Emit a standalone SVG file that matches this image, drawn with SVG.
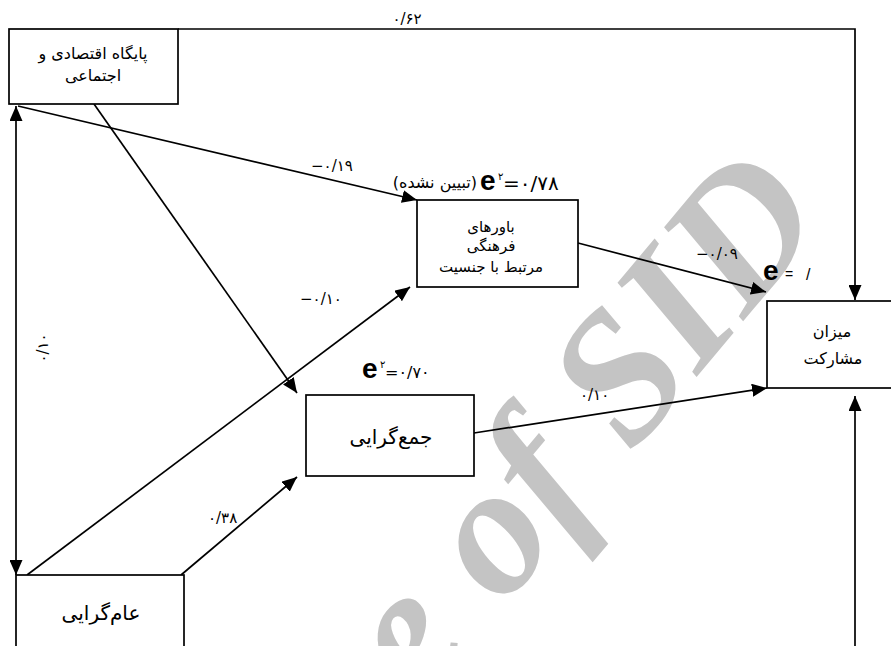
<svg xmlns="http://www.w3.org/2000/svg" width="891" height="646" viewBox="0 0 891 646">
  <defs>
    <marker id="ah" viewBox="0 0 15 13" refX="15" refY="6.5" markerWidth="15" markerHeight="13" markerUnits="userSpaceOnUse" orient="auto-start-reverse">
      <path d="M0,0 L15,6.5 L0,13 z" fill="#000"/>
    </marker>
  </defs>
  <style>
    .box{fill:#fff;stroke:#000;stroke-width:1.7}
    .ln{fill:none;stroke:#000;stroke-width:1.7}
    .fa{font-family:"DejaVu Sans","Noto Sans",sans-serif;font-size:15px;fill:#000;text-anchor:middle}
    .num{font-family:"DejaVu Sans","Noto Sans",sans-serif;font-size:15px;fill:#000}
    .e{font-family:"Liberation Sans",Arial,sans-serif;font-weight:bold;font-size:28px;fill:#000}
    .wm{font-family:"Liberation Serif","Times New Roman",serif;font-style:italic;font-weight:bold;font-size:185px;fill:#c4c4c4}
  </style>

  <rect width="891" height="646" fill="#fff"/>

  <!-- background stamp, running diagonally upward -->
  <g id="watermark">
    <text class="wm" text-anchor="end" transform="translate(830,218) rotate(-50)">Archive of SID</text>
  </g>

  <!-- connectors -->
  <g id="connectors">
    <!-- socio-economic base -> participation (top route) -->
    <polyline class="ln" points="178,29 855,29 855,300" marker-end="url(#ah)"/>
    <text class="num" x="407" y="24" text-anchor="middle">۰/۶۲</text>
    <!-- correlation between socio-economic base and universalism -->
    <line class="ln" x1="16" y1="106" x2="16" y2="575" marker-start="url(#ah)" marker-end="url(#ah)"/>
    <text class="num" transform="translate(48,348) rotate(-90)" text-anchor="middle">۰/۱۰</text>
    <!-- socio-economic base -> gender beliefs -->
    <line class="ln" x1="18" y1="106" x2="417" y2="200" marker-end="url(#ah)"/>
    <text class="num" x="311" y="171">−۰/۱۹</text>
    <!-- socio-economic base -> collectivism -->
    <line class="ln" x1="94" y1="104" x2="297" y2="393" marker-end="url(#ah)"/>
    <!-- universalism -> gender beliefs -->
    <line class="ln" x1="27" y1="575" x2="410" y2="287" marker-end="url(#ah)"/>
    <text class="num" x="300" y="304">−۰/۱۰</text>
    <!-- universalism -> collectivism -->
    <line class="ln" x1="181" y1="575" x2="297" y2="477" marker-end="url(#ah)"/>
    <text class="num" x="208" y="523">۰/۳۸</text>
    <!-- gender beliefs -> participation -->
    <line class="ln" x1="578" y1="243" x2="766" y2="292" marker-end="url(#ah)"/>
    <text class="num" x="696" y="259">−۰/۰۹</text>
    <!-- collectivism -> participation -->
    <line class="ln" x1="474" y1="433" x2="767" y2="388" marker-end="url(#ah)"/>
    <text class="num" x="580" y="400">۰/۱۰</text>
    <!-- incoming from below -->
    <line class="ln" x1="855" y1="646" x2="855" y2="396" marker-end="url(#ah)"/>
  </g>

  <!-- node: socio-economic base -->
  <g id="node-socioeconomic">
    <rect class="box" x="9" y="29" width="169" height="75"/>
    <text class="fa" x="93" y="59" style="font-size:16px">پایگاه اقتصادی و</text>
    <text class="fa" x="93" y="81" style="font-size:16px">اجتماعی</text>
  </g>

  <!-- node: gender-related cultural beliefs -->
  <g id="node-beliefs">
    <rect class="box" x="417" y="200" width="161" height="87"/>
    <text class="fa" x="491" y="232">باورهای</text>
    <text class="fa" x="491" y="251">فرهنگی</text>
    <text class="fa" x="491" y="272">مرتبط با جنسیت</text>
    <text x="477" y="188" text-anchor="end" font-family="DejaVu Sans,sans-serif" font-size="16">(تبیین نشده)</text>
    <text class="e" x="480" y="190">e</text>
    <text x="498" y="180" font-family="DejaVu Sans,sans-serif" font-size="10">۲</text>
    <text x="503" y="190" font-family="DejaVu Sans,sans-serif" font-size="20">=۰/۷۸</text>
  </g>

  <!-- node: collectivism -->
  <g id="node-collectivism">
    <rect class="box" x="306" y="395" width="168" height="81"/>
    <text class="fa" x="391" y="444" style="font-size:20px">جمع‌گرایی</text>
    <text class="e" x="362" y="378">e</text>
    <text x="380" y="368" font-family="DejaVu Sans,sans-serif" font-size="10">۲</text>
    <text x="385" y="378" font-family="DejaVu Sans,sans-serif" font-size="16">=۰/۷۰</text>
  </g>

  <!-- node: participation -->
  <g id="node-participation">
    <rect class="box" x="767" y="301" width="130" height="87"/>
    <text class="fa" x="832" y="337" style="font-size:16px">میزان</text>
    <text class="fa" x="833" y="364" style="font-size:16px">مشارکت</text>
    <text class="e" x="763" y="280">e</text>
    <text x="785" y="279" font-family="Liberation Sans,sans-serif" font-size="14">=</text>
    <text x="806" y="280" font-family="Liberation Sans,sans-serif" font-size="16">/</text>
  </g>

  <!-- node: universalism -->
  <g id="node-universalism">
    <rect class="box" x="16" y="575" width="168" height="90"/>
    <text class="fa" x="101" y="620" style="font-size:20px">عام‌گرایی</text>
  </g>
</svg>
